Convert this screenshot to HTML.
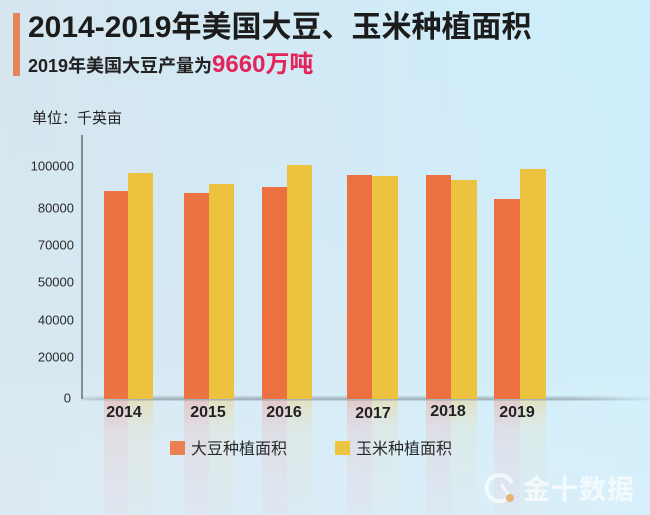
<!DOCTYPE html>
<html>
<head>
<meta charset="utf-8">
<style>
  html,body{margin:0;padding:0;}
  body{width:650px;height:515px;overflow:hidden;}
  svg{display:block;}
</style>
</head>
<body>
<svg width="650" height="515" viewBox="0 0 650 515" xmlns="http://www.w3.org/2000/svg">
  <defs>
    <linearGradient id="bgH" x1="0" y1="0" x2="1" y2="0">
      <stop offset="0" stop-color="#d6e6ef"/>
      <stop offset="0.5" stop-color="#d2eaf6"/>
      <stop offset="1" stop-color="#cdeefb"/>
    </linearGradient>
    <linearGradient id="bgV" x1="0" y1="0" x2="0" y2="1">
      <stop offset="0" stop-color="#ffffff" stop-opacity="0"/>
      <stop offset="0.7" stop-color="#ffffff" stop-opacity="0.05"/>
      <stop offset="1" stop-color="#eaf2fa" stop-opacity="0.35"/>
    </linearGradient>
    <linearGradient id="refO" x1="0" y1="0" x2="0" y2="1">
      <stop offset="0" stop-color="#f0a090" stop-opacity="0.45"/>
      <stop offset="0.25" stop-color="#efb0b0" stop-opacity="0.25"/>
      <stop offset="1" stop-color="#efc0c8" stop-opacity="0.12"/>
    </linearGradient>
    <linearGradient id="refY" x1="0" y1="0" x2="0" y2="1">
      <stop offset="0" stop-color="#f0d080" stop-opacity="0.45"/>
      <stop offset="0.25" stop-color="#eadbb0" stop-opacity="0.22"/>
      <stop offset="1" stop-color="#e8e0c8" stop-opacity="0.1"/>
    </linearGradient>
    <linearGradient id="ground" x1="0" y1="0" x2="1" y2="0">
      <stop offset="0" stop-color="#7f8f98" stop-opacity="0.15"/>
      <stop offset="0.1" stop-color="#7f8f98" stop-opacity="0.45"/>
      <stop offset="0.85" stop-color="#7f8f98" stop-opacity="0.4"/>
      <stop offset="1" stop-color="#7f8f98" stop-opacity="0.05"/>
    </linearGradient>
  </defs>

  <rect x="0" y="0" width="650" height="515" fill="url(#bgH)"/>
  <rect x="0" y="0" width="650" height="515" fill="url(#bgV)"/>

  <rect x="13" y="13" width="7" height="63" fill="#e8845a"/>

  <text x="28" y="37" font-family="'Liberation Sans','Noto Sans CJK SC',sans-serif" font-size="30" font-weight="bold" fill="#1c1c1c">2014-2019年美国大豆、玉米种植面积</text>

  <text x="28" y="72" font-family="'Liberation Sans','Noto Sans CJK SC',sans-serif" font-size="18" font-weight="bold" fill="#222">2019年美国大豆产量为<tspan font-size="24" fill="#e3245a">9660万吨</tspan></text>

  <text x="32" y="123" font-family="'Liberation Sans','Noto Sans CJK SC',sans-serif" font-size="15" fill="#222">单位：千英亩</text>

  <g>
    <rect x="104" y="400" width="24" height="115" fill="url(#refO)"/>
    <rect x="128" y="400" width="25" height="115" fill="url(#refY)"/>
    <rect x="184" y="400" width="25" height="115" fill="url(#refO)"/>
    <rect x="209" y="400" width="25" height="115" fill="url(#refY)"/>
    <rect x="262" y="400" width="25" height="115" fill="url(#refO)"/>
    <rect x="287" y="400" width="25" height="115" fill="url(#refY)"/>
    <rect x="347" y="400" width="25" height="115" fill="url(#refO)"/>
    <rect x="372" y="400" width="26" height="115" fill="url(#refY)"/>
    <rect x="426" y="400" width="25" height="115" fill="url(#refO)"/>
    <rect x="451" y="400" width="26" height="115" fill="url(#refY)"/>
    <rect x="494" y="400" width="26" height="115" fill="url(#refO)"/>
    <rect x="520" y="400" width="26" height="115" fill="url(#refY)"/>
  </g>

  <rect x="82" y="396" width="568" height="5" fill="url(#ground)" opacity="0.7"/>
  <rect x="82" y="398" width="568" height="2" fill="url(#ground)"/>

  <g>
    <rect x="104" y="191" width="24" height="208" fill="#ec7444"/>
    <rect x="128" y="173" width="25" height="226" fill="#ecc23e"/>
    <rect x="184" y="193" width="25" height="206" fill="#ec7444"/>
    <rect x="209" y="184" width="25" height="215" fill="#ecc23e"/>
    <rect x="262" y="187" width="25" height="212" fill="#ec7040"/>
    <rect x="287" y="165" width="25" height="234" fill="#ecc23e"/>
    <rect x="347" y="175" width="25" height="224" fill="#ec7040"/>
    <rect x="372" y="176" width="26" height="223" fill="#ecc23e"/>
    <rect x="426" y="175" width="25" height="224" fill="#ec7040"/>
    <rect x="451" y="180" width="26" height="219" fill="#ecc23e"/>
    <rect x="494" y="199" width="26" height="200" fill="#ec7040"/>
    <rect x="520" y="169" width="26" height="230" fill="#ecc23e"/>
  </g>

  <line x1="82" y1="135" x2="82" y2="399" stroke="#4a4f55" stroke-width="1.2"/>

  <g font-family="'Liberation Sans',sans-serif" font-size="13" fill="#2a2a2a" text-anchor="end">
    <text x="74" y="170.5">100000</text>
    <text x="74" y="212.5">80000</text>
    <text x="74" y="249.5">70000</text>
    <text x="74" y="286.5">50000</text>
    <text x="74" y="324.5">40000</text>
    <text x="74" y="361.5">20000</text>
    <text x="71" y="402.5">0</text>
  </g>

  <g font-family="'Liberation Sans',sans-serif" font-size="16" font-weight="bold" fill="#222" text-anchor="middle">
    <text x="124" y="417">2014</text>
    <text x="208" y="417">2015</text>
    <text x="284" y="417">2016</text>
    <text x="373" y="418">2017</text>
    <text x="448" y="416">2018</text>
    <text x="517" y="417">2019</text>
  </g>

  <rect x="170" y="441" width="15" height="14" fill="#ec8050"/>
  <text x="191" y="454" font-family="'Liberation Sans','Noto Sans CJK SC',sans-serif" font-size="16" fill="#2a2a2a">大豆种植面积</text>
  <rect x="335" y="441" width="15" height="14" fill="#ecc444"/>
  <text x="356" y="454" font-family="'Liberation Sans','Noto Sans CJK SC',sans-serif" font-size="16" fill="#2a2a2a">玉米种植面积</text>

  <g opacity="0.7">
    <path d="M 509 497 A 13 13 0 1 1 511 482" fill="none" stroke="#ffffff" stroke-width="4" stroke-linecap="round"/>
    <line x1="501" y1="484" x2="509" y2="495" stroke="#ffffff" stroke-width="3"/>
    <circle cx="510" cy="498" r="4" fill="#e8a040"/>
    <text x="523" y="499" font-family="'Liberation Sans','Noto Sans CJK SC',sans-serif" font-size="27" font-weight="bold" fill="#ffffff" letter-spacing="1">金十数据</text>
  </g>
</svg>
</body>
</html>
